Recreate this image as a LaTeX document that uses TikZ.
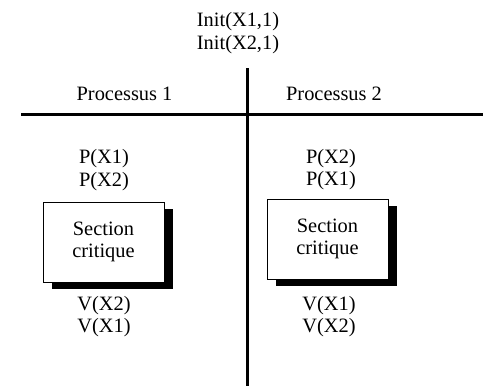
\documentclass[tikz,border=0pt]{standalone}
\usepackage{fontspec}
\setmainfont{Liberation Serif}
\usepackage{tikz}
\usetikzlibrary{shadows}
\tikzstyle{txt}=[inner sep=0pt, anchor=base
,font=\fontsize{20.4}{22}\selectfont
]
\tikzstyle{section box} = [draw, fill=white, line width=1pt
,minimum width=121pt, minimum height=80pt, align=center
,font=\fontsize{20.4}{22}\selectfont
,drop shadow={shadow xshift=9pt, shadow yshift=-7pt, fill=black, opacity=1}
]
\tikzstyle{bar} = [draw,line width=3pt,-]

\begin{document}
\begin{tikzpicture}[x=1pt,y=-1pt]
    \useasboundingbox (0,0) rectangle (483,386);
    % The initialisations on top
    \foreach \pos/\name/\txt in {{(238,26)/I1/Init(X1,1)}, {(238,49)/I2/Init(X2,1)},
        {(124.5,100)/P1/Processus 1}, {(334,100)/P2/Processus 2}}
        \node[txt] (\name) at \pos {\txt};

    % Separating lines
    \coordinate (top) at (247,68);
    \coordinate (bottom) at (247,386);
    \coordinate (left) at (21,114);
    \coordinate (right) at (483,114);
    \path[bar] (top) -- (bottom);
    \path[bar] (left) -- (right);

    % First process
    \foreach \pos/\name/\txt in {{(104,163)/PaX1/P(X1)}, {(104,186)/PaX2/P(X2)},
        {(104,310)/VaX2/V(X2)}, {(104,332)/VaX1/V(X1)}}
        \node[txt] (\name) at \pos {\txt};
    \node[section box] (SCa) at (103.5,242) {Section\\critique};

    % Second process
    \foreach \pos/\name/\txt in {{(331,163)/PbX2/P(X2)}, {(331,185)/PbX1/P(X1)},
        {(329,310)/VbX1/V(X1)}, {(329,332)/VbX2/V(X2)}}
        \node[txt] (\name) at \pos {\txt};
    \node[section box] (SCb) at (327.5,239) {Section\\critique};
\end{tikzpicture}
\end{document}
